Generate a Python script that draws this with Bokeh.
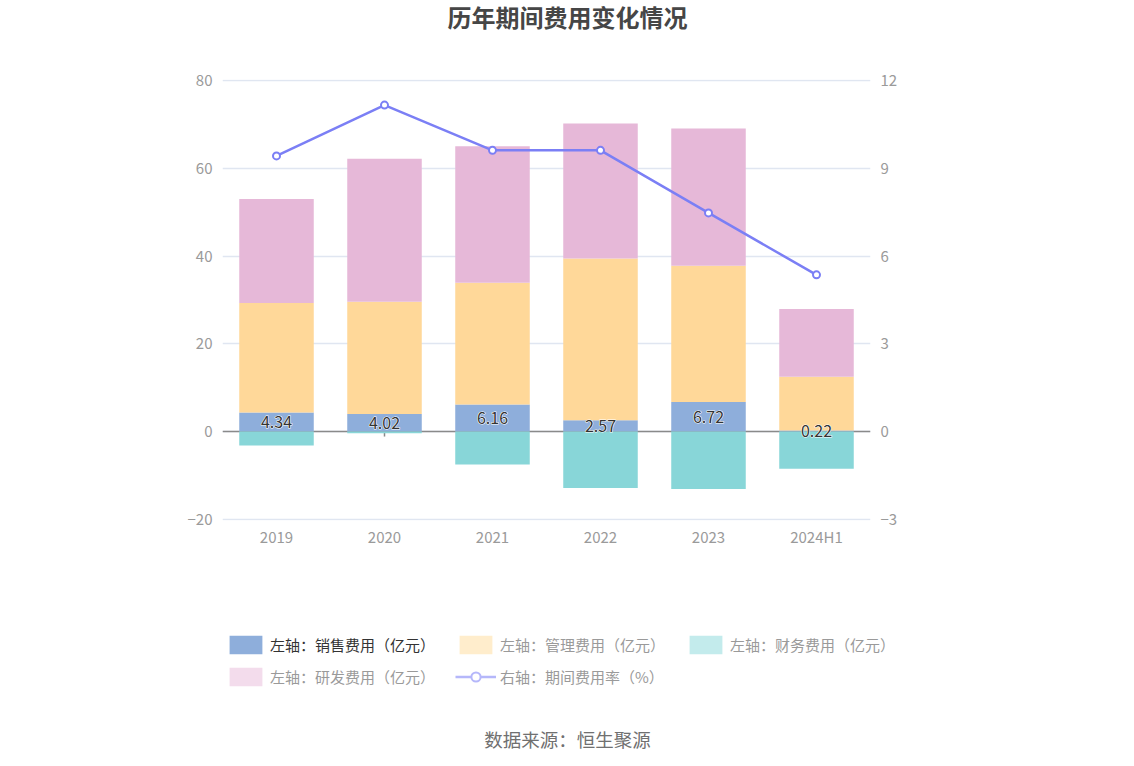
from bokeh.plotting import figure
from bokeh.layouts import column, row
from bokeh.models import (ColumnDataSource, Range1d, LinearAxis, FixedTicker, Span,
                          Label, Legend, LegendItem, FactorRange)
from bokeh.core.properties import value
from bokeh.embed import file_html
from bokeh.resources import INLINE

# ---- data ----
years = ["2019", "2020", "2021", "2022", "2023", "2024H1"]
sales = [4.34, 4.02, 6.16, 2.57, 6.72, 0.22]          # 销售费用
mgmt = [25.0, 25.6, 27.8, 36.9, 31.1, 12.3]           # 管理费用
rnd = [23.7, 32.6, 31.1, 30.8, 31.3, 15.4]            # 研发费用
finance = [-3.2, -0.4, -7.5, -12.9, -13.1, -8.5]      # 财务费用
rate = [9.43, 11.17, 9.62, 9.62, 7.48, 5.36]          # 期间费用率 %
left_ticks = [-20, 0, 20, 40, 60, 80]
right_ticks = [-3, 0, 3, 6, 9, 12]

FONT = "Noto Sans CJK SC"
C_SALES, C_MGMT, C_FIN, C_RND, C_LINE = "#8eaedb", "#ffd899", "#88d6d8", "#e6b8d8", "#7b7ff5"
F_MGMT, F_FIN, F_RND, F_LINE = "#ffedcc", "#c3ebec", "#f3dcec", "#b5b7fa"
GREY = "#9a9a9a"
W = 1126


def blank(height):
    f = figure(width=W, height=height, x_range=Range1d(0, W), y_range=Range1d(0, height),
               x_axis_type=None, y_axis_type=None, output_backend="svg", toolbar_location=None,
               min_border=0)
    f.outline_line_color = None
    f.grid.visible = False
    return f


# ---- title strip ----
ft = blank(50)
ft.add_layout(Label(x=567, y=34, text="历年期间费用变化情况", text_align="center",
                    text_baseline="middle", text_font=FONT, text_font_size="24px",
                    text_font_style="bold", text_color="#464646"))

# ---- main chart ----
src = ColumnDataSource(dict(
    years=years, sales=sales, mgmt=mgmt, rnd=rnd, finance=finance, rate=rate,
    label=[f"{v:.2f}" for v in sales],
    label_y=[v / 2 for v in sales],
    zero=[0] * len(years), tick_bot=[-1.15] * len(years),
))

p = figure(x_range=FactorRange(factors=years), y_range=Range1d(-20.3, 80.3),
           width=W, height=510, output_backend="svg", toolbar_location=None,
           min_border_left=222, min_border_right=256, min_border_top=29, min_border_bottom=40)
p.outline_line_color = None

p.xgrid.visible = False
p.ygrid.ticker = FixedTicker(ticks=left_ticks)
p.ygrid.grid_line_color = "#e0e6f1"
p.ygrid.grid_line_width = 1.5

for ax in (p.xaxis[0], p.yaxis[0]):
    ax.axis_line_color = None
    ax.major_tick_line_color = None
    ax.minor_tick_line_color = None
    ax.major_tick_out = 0
    ax.minor_tick_out = 0
    ax.major_label_text_color = GREY
    ax.major_label_text_font = FONT
    ax.major_label_text_font_size = "15px"
p.yaxis[0].ticker = FixedTicker(ticks=left_ticks)
p.yaxis[0].major_label_standoff = 10
p.xaxis[0].major_label_standoff = 5

p.extra_y_ranges = {"rate": Range1d(-3.045, 12.045)}
rax = LinearAxis(y_range_name="rate", ticker=FixedTicker(ticks=right_ticks))
rax.axis_line_color = None
rax.major_tick_line_color = None
rax.minor_tick_line_color = None
rax.major_tick_out = 0
rax.minor_tick_out = 0
rax.major_label_text_color = GREY
rax.major_label_text_font = FONT
rax.major_label_text_font_size = "15px"
rax.major_label_standoff = 10
p.add_layout(rax, "right")

# zero line and its ticks (under the bars)
p.add_layout(Span(location=0, dimension="width", line_color="#8a8a8a", line_width=1.5, level="underlay"))
p.segment(x0="years", x1="years", y0="zero", y1="tick_bot", source=src,
          line_color="#8a8a8a", line_width=1.5)

# bars
stack = p.vbar_stack(["sales", "mgmt", "rnd"], x="years", width=0.69, source=src,
                     color=[C_SALES, C_MGMT, C_RND], line_color=None)
p.vbar(x="years", top="zero", bottom="finance", width=0.69, source=src,
       fill_color=C_FIN, line_color=None)

# value labels (white halo + dark text)
p.text(x="years", y="label_y", text="label", source=src, text_align="center",
       text_baseline="middle", text_font=value(FONT), text_font_size="16px",
       text_color="white", text_outline_color="white")
p.text(x="years", y="label_y", text="label", source=src, text_align="center",
       text_baseline="middle", text_font=value(FONT), text_font_size="16px",
       text_color="#333333")

# rate line
p.line(x="years", y="rate", y_range_name="rate", source=src, line_color=C_LINE, line_width=2.5)
p.scatter(x="years", y="rate", y_range_name="rate", source=src, size=7,
          fill_color="white", line_color=C_LINE, line_width=2)

# ---- legend + source strip ----
fl = blank(198)
# legend proxies: a single off-canvas point so that the legend can draw its swatches
proxy = ColumnDataSource(dict(x=[-500.0], y=[-500.0]))
px_sales = fl.vbar(x="x", top="y", width=1, source=proxy, fill_color=C_SALES, line_color=None)
px_mgmt = fl.vbar(x="x", top="y", width=1, source=proxy, fill_color=F_MGMT, line_color=None)
px_fin = fl.vbar(x="x", top="y", width=1, source=proxy, fill_color=F_FIN, line_color=None)
px_rnd = fl.vbar(x="x", top="y", width=1, source=proxy, fill_color=F_RND, line_color=None)
px_line = fl.line(x="x", y="y", source=proxy, line_color=F_LINE, line_width=2.5)
px_pt = fl.scatter(x="x", y="y", source=proxy, size=13, fill_color="white",
                   line_color=F_LINE, line_width=2)


def make_legend(items, loc, color):
    lg = Legend(items=items, location=loc, orientation="horizontal",
                glyph_width=41, glyph_height=23, label_standoff=4, spacing=0,
                label_width=185, padding=0, margin=0,
                border_line_color=None, background_fill_alpha=0,
                label_text_font=FONT, label_text_font_size="15px",
                label_text_color=color)
    fl.add_layout(lg, "center")
    return lg


make_legend([LegendItem(label="左轴：销售费用（亿元）", renderers=[px_sales])], (225, 102), "#333333")
make_legend([LegendItem(label="左轴：管理费用（亿元）", renderers=[px_mgmt]),
             LegendItem(label="左轴：财务费用（亿元）", renderers=[px_fin])], (455, 102), GREY)
make_legend([LegendItem(label="左轴：研发费用（亿元）", renderers=[px_rnd]),
             LegendItem(label="右轴：期间费用率（%）", renderers=[px_line, px_pt])], (225, 70), GREY)

fl.add_layout(Label(x=567, y=20, text="数据来源：恒生聚源", text_align="center",
                    text_baseline="middle", text_font=FONT, text_font_size="18.5px",
                    text_color="#707070"))

layout = column(row(ft), p, row(fl), spacing=0)
open("out.html", "w").write(file_html(layout, INLINE))
